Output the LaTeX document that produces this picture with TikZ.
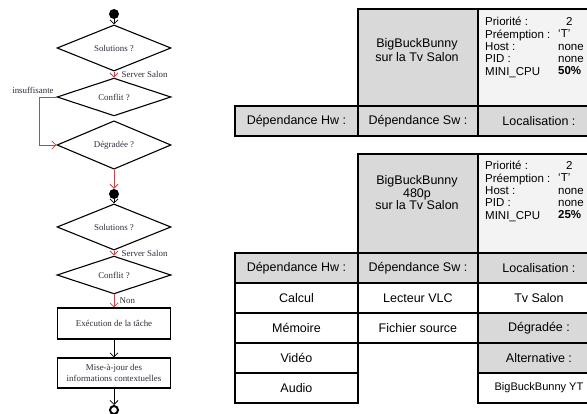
\documentclass[tikz,border=0pt]{standalone}
\usepackage{fontspec}
\setmainfont{Liberation Serif}
\newfontfamily\tabfont{Liberation Sans}
\usetikzlibrary{shapes.geometric,arrows.meta}

\definecolor{flowred}{RGB}{208,62,62}
\definecolor{flowtext}{RGB}{45,45,60}
\definecolor{cellgray}{RGB}{217,217,217}
\definecolor{infogray}{RGB}{243,243,243}

\tikzset{
  flowfont/.style={font=\fontsize{8.9}{11}\selectfont, text=flowtext},
  decision/.style={diamond, draw, line width=1.1pt, minimum width=114pt, minimum height=30pt, inner sep=0pt, flowfont},
  action/.style={rectangle, draw, line width=1.1pt, minimum width=113pt, minimum height=30pt, align=center, flowfont},
  startdot/.style={circle, fill=black, minimum size=10pt, inner sep=0pt},
  enddot/.style={circle, draw, line width=2pt, minimum size=8pt, inner sep=0pt},
  flow/.style={-{Straight Barb[length=4pt,width=8pt]}, line width=0.8pt},
  okflow/.style={flow, draw=flowred},
  cell/.style={draw, line width=1.9pt, anchor=north west, minimum height=30pt, inner sep=0pt,
    font=\tabfont\fontsize{12.5}{14}\selectfont},
  cellhead/.style={cell, fill=cellgray},
  cellinfo/.style={cell, fill=infogray},
  celldata/.style={cell, fill=white},
  hwcol/.style={minimum width=123pt},
  swcol/.style={minimum width=120pt},
  loccol/.style={minimum width=122pt},
  infotext/.style={anchor=north west, inner sep=0pt, align=left, font=\tabfont\fontsize{11.5}{12.4}\selectfont}
}

\begin{document}
\begin{tikzpicture}[x=1pt,y=-1pt]
    \useasboundingbox (0,0) rectangle (587,414);
    \clip (0,0) rectangle (587,414);

    % Flowchart, first pass
    \node[startdot] (debut) at (114,14) {};
    \node[decision] (solA) at (114,48) {Solutions ?};
    \node[decision] (confA) at (114,97) {Conflit ?};
    \node[decision] (degr) at (114,145) {Dégradée ?};
    \coordinate (boucleA) at (39,97);
    \coordinate (boucleB) at (39,145);

    \draw[flow] (debut) -- (solA);
    \draw[okflow] (solA) -- node[midway, right, xshift=4pt, flowfont] {Server Salon} (confA);
    \draw[okflow] (confA.west) -- (boucleA) -- (boucleB) -- (degr.west);
    \node[above, xshift=-6pt, flowfont] (insuf) at (boucleA) {insuffisante};

    % Flowchart, second pass
    \node[startdot] (reprise) at (114,194) {};
    \node[decision] (solB) at (114,227) {Solutions ?};
    \node[decision] (confB) at (114,275) {Conflit ?};
    \node[action, minimum height=31pt] (exec) at (114,323.5) {Exécution de la tâche};
    \node[action] (maj) at (114,373) {Mise-à-jour des\\informations contextuelles};
    \node[enddot] (fin) at (114,410) {};

    \draw[okflow] (degr) -- (reprise);
    \draw[flow] (reprise) -- (solB);
    \draw[okflow] (solB) -- node[midway, right, xshift=4pt, flowfont] {Server Salon} (confB);
    \draw[okflow] (confB) -- node[midway, right, xshift=2pt, flowfont] {Non} (exec);
    \draw[flow] (exec) -- (maj);
    \draw[flow] (maj) -- (fin);

    % Upper table
    \node[cellhead, swcol, minimum height=97pt] (titreA) at (357,8) {};
    \node[cellinfo, loccol, minimum height=97pt] (infoA) at (477,8) {};
    \node[align=center, font=\tabfont\fontsize{12.5}{14}\selectfont] (nomA) at (417,50) {BigBuckBunny\\sur la Tv Salon};
    \node[infotext] (clesA) at (485,17) {Priorité :\\Préemption :\\Host :\\PID :\\MINI\_CPU};
    \node[infotext] (valA) at (558,17) {\hspace{8pt}2\\‘T’\\none\\none\\\textbf{50\%}};
    \node[cellhead, hwcol] (hwA) at (234,105) {Dépendance Hw :};
    \node[cellhead, swcol] (swA) at (357,105) {Dépendance Sw :};
    \node[cellhead, loccol] (locA) at (477,105) {Localisation :};

    % Lower table
    \node[cellhead, swcol, minimum height=99pt] (titreB) at (357,153) {};
    \node[cellinfo, loccol, minimum height=99pt] (infoB) at (477,153) {};
    \node[align=center, font=\tabfont\fontsize{12.5}{12.5}\selectfont] (nomB) at (417,193) {BigBuckBunny\\480p\\sur la Tv Salon};
    \node[infotext] (clesB) at (485,161) {Priorité :\\Préemption :\\Host :\\PID :\\MINI\_CPU};
    \node[infotext] (valB) at (558,161) {\hspace{8pt}2\\‘T’\\none\\none\\\textbf{25\%}};
    \node[cellhead, hwcol] (hwB) at (234,252) {Dépendance Hw :};
    \node[cellhead, swcol] (swB) at (357,252) {Dépendance Sw :};
    \node[cellhead, loccol] (locB) at (477,252) {Localisation :};

    % Hardware column
    \node[celldata, hwcol] (calcul) at (234,282) {Calcul};
    \node[celldata, hwcol] (memoire) at (234,312) {Mémoire};
    \node[celldata, hwcol] (video) at (234,342) {Vidéo};
    \node[celldata, hwcol] (audio) at (234,372) {Audio};

    % Software column
    \node[celldata, swcol] (lecteur) at (357,282) {Lecteur VLC};
    \node[celldata, swcol] (fichier) at (357,312) {Fichier source};

    % Location column
    \node[celldata, loccol] (tv) at (477,282) {Tv Salon};
    \node[cellhead, loccol] (degrade) at (477,312) {Dégradée :};
    \node[cellhead, loccol] (altern) at (477,342) {Alternative :};
    \node[celldata, loccol, font=\tabfont\fontsize{11}{13}\selectfont] (yt) at (477,372) {BigBuckBunny YT};
\end{tikzpicture}
\end{document}
